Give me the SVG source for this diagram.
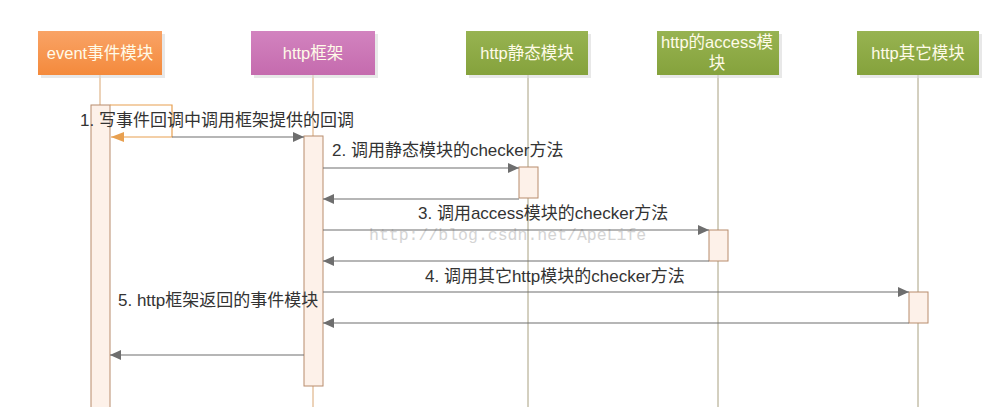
<svg xmlns="http://www.w3.org/2000/svg" width="1000" height="407" viewBox="0 0 1000 407">
<style>
.hdr{font-family:"Liberation Sans","Noto Sans CJK SC",sans-serif;font-size:16.5px;fill:#fffbe8;text-anchor:middle}
.lbl{font-family:"Liberation Sans","Noto Sans CJK SC",sans-serif;font-size:17px;fill:#333}
.shadow{fill:#d8d8d8;opacity:0.6}
.life1{stroke:#d9a672;stroke-width:1;fill:none}
.life2{stroke:#a8a080;stroke-width:1;fill:none}
.act{fill:#fdf1e9;stroke:#b88c6c;stroke-width:1}
.msg{stroke:#6e6e6e;stroke-width:1.2;fill:none}
.wm{font-family:"Liberation Mono",monospace;font-size:16.5px;fill:#d4d4d4}
</style>
<defs>
<linearGradient id="gOrange" x1="0" y1="0" x2="0" y2="1"><stop offset="0" stop-color="#f9a366"/><stop offset="1" stop-color="#f48a3c"/></linearGradient>
<linearGradient id="gPink" x1="0" y1="0" x2="0" y2="1"><stop offset="0" stop-color="#d283bf"/><stop offset="1" stop-color="#c56bae"/></linearGradient>
<linearGradient id="gGreen" x1="0" y1="0" x2="0" y2="1"><stop offset="0" stop-color="#97b351"/><stop offset="1" stop-color="#85a23c"/></linearGradient>
<marker id="arr" markerWidth="12" markerHeight="10" refX="11" refY="5" orient="auto" markerUnits="userSpaceOnUse"><path d="M0,0 L11,5 L0,10 Z" fill="#6e6e6e"/></marker>
<marker id="arrO" markerWidth="14" markerHeight="10" refX="13" refY="5" orient="auto" markerUnits="userSpaceOnUse"><path d="M0,0 L13,5 L0,10 Z" fill="#e8a050"/></marker>
</defs>
<rect width="1000" height="407" fill="#ffffff"/>

<g id="lifelines">
<line class="life1" x1="100" y1="75" x2="100" y2="407"/>
<line class="life1" x1="313" y1="75" x2="313" y2="407"/>
<line class="life2" x1="528" y1="75" x2="528" y2="407"/>
<line class="life2" x1="718" y1="75" x2="718" y2="407"/>
<line class="life2" x1="918" y1="75" x2="918" y2="407"/>
</g>

<g id="event">
<rect class="shadow" x="41" y="34" width="124" height="44"/>
<rect x="38" y="31" width="124" height="44" fill="url(#gOrange)"/>
<text class="hdr" x="100" y="59">event事件模块</text>
</g>
<g id="http-frame">
<rect class="shadow" x="254" y="34" width="124" height="44"/>
<rect x="251" y="31" width="124" height="44" fill="url(#gPink)"/>
<text class="hdr" x="313" y="59">http框架</text>
</g>
<g id="http-static">
<rect class="shadow" x="469" y="34" width="122" height="44"/>
<rect x="466" y="31" width="122" height="44" fill="url(#gGreen)"/>
<text class="hdr" x="527" y="59">http静态模块</text>
</g>
<g id="http-access">
<rect class="shadow" x="660" y="34" width="122" height="44"/>
<rect x="657" y="31" width="122" height="44" fill="url(#gGreen)"/>
<text class="hdr" x="717" y="48">http的access模</text>
<text class="hdr" x="717" y="69">块</text>
</g>
<g id="http-other">
<rect class="shadow" x="860" y="34" width="122" height="44"/>
<rect x="857" y="31" width="122" height="44" fill="url(#gGreen)"/>
<text class="hdr" x="918" y="59">http其它模块</text>
</g>

<g id="activations">
<rect class="act" x="91" y="105" width="19" height="310"/>
<rect class="act" x="304" y="136" width="19" height="250"/>
<rect class="act" x="519" y="167" width="19" height="31"/>
<rect class="act" x="709" y="230" width="19" height="31"/>
<rect class="act" x="909" y="292" width="19" height="31"/>
</g>

<text class="wm" x="369" y="240">http://blog.csdn.net/ApeLife</text>

<g id="connectors">
<path d="M110,105 H172 V137 H111" stroke="#e8a050" stroke-width="1.2" fill="none" marker-end="url(#arrO)"/>
<line class="msg" x1="172" y1="137" x2="304" y2="137" marker-end="url(#arr)"/>
<line class="msg" x1="323" y1="168" x2="519" y2="168" marker-end="url(#arr)"/>
<line class="msg" x1="519" y1="199" x2="323" y2="199" marker-end="url(#arr)"/>
<line class="msg" x1="323" y1="230" x2="709" y2="230" marker-end="url(#arr)"/>
<line class="msg" x1="709" y1="261" x2="323" y2="261" marker-end="url(#arr)"/>
<line class="msg" x1="323" y1="292" x2="909" y2="292" marker-end="url(#arr)"/>
<line class="msg" x1="909" y1="323" x2="323" y2="323" marker-end="url(#arr)"/>
<line class="msg" x1="304" y1="355" x2="110" y2="355" marker-end="url(#arr)"/>
</g>

<g id="labels">
<text class="lbl" x="80" y="126">1. 写事件回调中调用框架提供的回调</text>
<text class="lbl" x="332" y="156">2. 调用静态模块的checker方法</text>
<text class="lbl" x="418" y="219">3. 调用access模块的checker方法</text>
<text class="lbl" x="425" y="282">4. 调用其它http模块的checker方法</text>
<text class="lbl" x="118" y="306">5. http框架返回的事件模块</text>
</g>
</svg>
